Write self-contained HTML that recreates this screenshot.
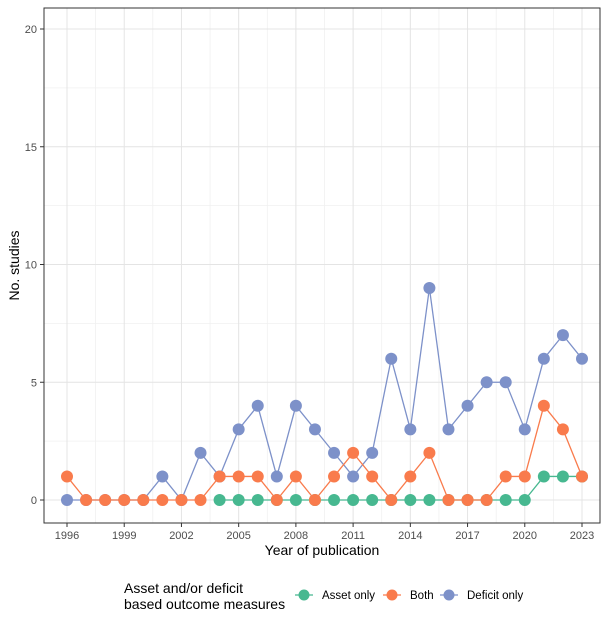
<!DOCTYPE html>
<html><head><meta charset="utf-8"><style>
body{margin:0;background:#fff;font-family:"Liberation Sans",sans-serif}
</style></head><body>
<svg id="c" width="614" height="613" xmlns="http://www.w3.org/2000/svg"></svg>
<script>
const years=[1996,1997,1998,1999,2000,2001,2002,2003,2004,2005,2006,2007,2008,2009,2010,2011,2012,2013,2014,2015,2016,2017,2018,2019,2020,2021,2022,2023];
const deficitVals=[0,0,0,0,0,1,0,2,1,3,4,1,4,3,2,1,2,6,3,9,3,4,5,5,3,6,7,6];
const bothVals=[1,0,0,0,0,0,0,0,1,1,1,0,1,0,1,2,1,0,1,2,0,0,0,1,1,4,3,1];
const assetYears=[2004,2005,2006,2007,2008,2009,2010,2011,2012,2013,2014,2015,2016,2017,2018,2019,2020,2021,2022,2023];
const assetVals=[0,0,0,0,0,0,0,0,0,0,0,0,0,0,0,0,0,1,1,1];
const xTicks=[1996,1999,2002,2005,2008,2011,2014,2017,2020,2023];
const yTicks=[0,5,10,15,20];
const svg=document.getElementById('c');const NS='http://www.w3.org/2000/svg';
const L=44,R=600,T=8,B=523;
const x=v=>67+(v-1996)*(582-67)/27;
const y=v=>500-v*(500-29)/20;
function el(t,a,p){const e=document.createElementNS(NS,t);for(const k in a)e.setAttribute(k,a[k]);(p||svg).appendChild(e);return e;}
for(let v=2.5;v<21;v+=5){const g=el('line',{x1:L,x2:R,y1:y(v),y2:y(v),stroke:'#f0f0f0','stroke-width':0.8});}
for(let i=0;i<xTicks.length-1;i++){const v=xTicks[i]+1.5;const g=el('line',{x1:x(v),x2:x(v),y1:T,y2:B,stroke:'#f0f0f0','stroke-width':0.8});}
yTicks.forEach(v=>{const g=el('line',{x1:L,x2:R,y1:y(v),y2:y(v),stroke:'#e4e4e4','stroke-width':1});
el('line',{x1:L-4,x2:L,y1:y(v),y2:y(v),stroke:'#333'});
const t=el('text',{x:L-7,y:y(v)+4,'text-anchor':'end','font-size':11,fill:'#4d4d4d'});t.textContent=v;});
xTicks.forEach(v=>{const g=el('line',{x1:x(v),x2:x(v),y1:T,y2:B,stroke:'#e4e4e4','stroke-width':1});
el('line',{x1:x(v),x2:x(v),y1:B,y2:B+4,stroke:'#333'});
const t=el('text',{x:x(v),y:B+16,'text-anchor':'middle','font-size':11,fill:'#4d4d4d'});t.textContent=v;});
const fr=el('rect',{x:L,y:T,width:R-L,height:B-T,fill:'none',stroke:'#333','stroke-width':1});
function series(xs,vs,col,name){const g=el('g',{});
el('polyline',{points:xs.map((v,i)=>x(v)+','+y(vs[i])).join(' '),fill:'none',stroke:col,'stroke-width':1.3},g);
xs.forEach((v,i)=>{const c=el('circle',{cx:x(v),cy:y(vs[i]),r:6,fill:col},g);});}
const cA='#47b890',cB='#f97b4c',cD='#7d91c9';
series(assetYears,assetVals,cA,'asset-only');
series(years,deficitVals,cD,'deficit-only');
series(years,bothVals,cB,'both');
let t=el('text',{x:(L+R)/2,y:555,'text-anchor':'middle','font-size':14,fill:'#000'});t.textContent='Year of publication';
t=el('text',{x:0,y:0,'text-anchor':'middle','font-size':14,transform:`translate(19,${(T+B)/2}) rotate(-90)`});t.textContent='No. studies';
const lg=el('g',{});
t=el('text',{x:124,y:593,'font-size':14},lg);t.textContent='Asset and/or deficit';
t=el('text',{x:124,y:609,'font-size':14},lg);t.textContent='based outcome measures';
[['Asset only',cA,304],['Both',cB,392],['Deficit only',cD,449]].forEach(([n,c,px])=>{const e=el('g',{},lg);
el('line',{x1:px-9,x2:px+9,y1:595,y2:595,stroke:c,'stroke-width':1.3},e);el('circle',{cx:px,cy:595,r:5.5,fill:c},e);
const tt=el('text',{x:px+18,y:599,'font-size':11.5,fill:'#000'},e);tt.textContent=n;});
</script></body></html>
